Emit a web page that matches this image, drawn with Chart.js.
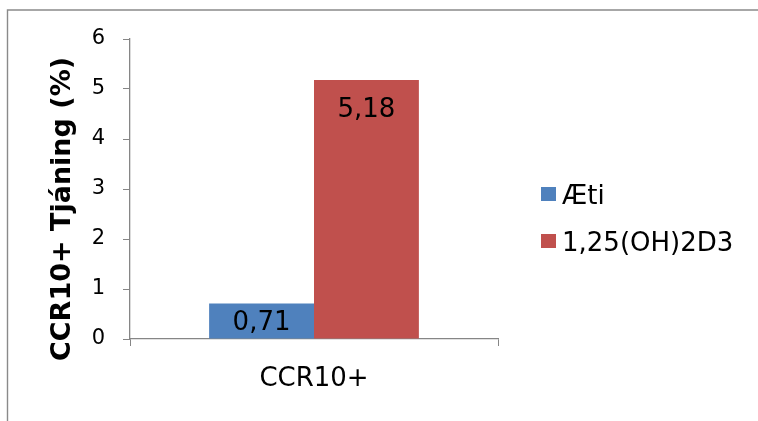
<!DOCTYPE html>
<html>
<head>
<meta charset="utf-8">
<script src="https://cdn.jsdelivr.net/npm/chart.js@4"></script>
<style>
  html, body { margin: 0; padding: 0; background: #ffffff; }
  #wrap { width: 758px; height: 421px; position: relative; }
</style>
</head>
<body>
<div id="wrap"><canvas id="c" width="758" height="421"></canvas></div>
<script>
// Categories, series and axis ticks
const categories = ['CCR10+'];
const seriesNames = ['Æti', '1,25(OH)2D3'];
const aetiValues = [0.71];
const vitdValues = [5.18];
const yTicks = [0, 1, 2, 3, 4, 5, 6];
const yTitle = 'CCR10+ Tjáning (%)';

const FONT = '"DejaVu Sans", Verdana, sans-serif';
const AXIS_GREY = '#868686';
const colors = ['#4F81BD', '#C0504D'];

// Outer frame of the chart box (top and left edges)
const framePlugin = {
  id: 'frame',
  beforeDraw(chart) {
    const ctx = chart.ctx;
    ctx.save();
    ctx.strokeStyle = '#8a8a8a';
    ctx.lineWidth = 1.4;
    ctx.beginPath();
    ctx.moveTo(7.5, 421);
    ctx.lineTo(7.5, 10);
    ctx.lineTo(758, 10);
    ctx.stroke();
    ctx.restore();
  }
};

// Rotated value-axis title, centred on the chart box
const yTitlePlugin = {
  id: 'yTitle',
  afterDraw(chart) {
    const ctx = chart.ctx;
    ctx.save();
    ctx.translate(70, 209);
    ctx.rotate(-Math.PI / 2);
    ctx.font = 'bold 27px ' + FONT;
    ctx.fillStyle = '#000000';
    ctx.textAlign = 'center';
    ctx.textBaseline = 'alphabetic';
    ctx.fillText(yTitle, 0, 0);
    ctx.restore();
  }
};

// Value labels inside each bar, decimal comma
const valueLabelPlugin = {
  id: 'valueLabels',
  afterDatasetsDraw(chart) {
    const ctx = chart.ctx;
    ctx.save();
    ctx.font = '26px ' + FONT;
    ctx.fillStyle = '#000000';
    ctx.textAlign = 'center';
    ctx.textBaseline = 'alphabetic';
    chart.data.datasets.forEach((ds, i) => {
      const meta = chart.getDatasetMeta(i);
      meta.data.forEach((bar, j) => {
        const v = ds.data[j];
        const y = Math.min(bar.y + 36.5, bar.base - 8.5);
        ctx.fillText(v.toFixed(2).replace('.', ','), bar.x, y);
      });
    });
    ctx.restore();
  }
};

// Legend on the right, square markers
const legendPlugin = {
  id: 'sideLegend',
  afterDraw(chart) {
    const ctx = chart.ctx;
    ctx.save();
    ctx.font = '26px ' + FONT;
    ctx.textBaseline = 'alphabetic';
    ctx.textAlign = 'left';
    const x0 = 541, ys = [194, 241];
    chart.data.datasets.forEach((ds, i) => {
      ctx.fillStyle = ds.backgroundColor;
      ctx.fillRect(x0, ys[i] - 7, 15, 14);
      ctx.fillStyle = '#000000';
      ctx.fillText(ds.label, x0 + 21, ys[i] + 9.5);
    });
    ctx.restore();
  }
};

new Chart(document.getElementById('c'), {
  type: 'bar',
  data: {
    labels: categories,
    datasets: [
      { label: seriesNames[0], data: aetiValues, backgroundColor: colors[0] },
      { label: seriesNames[1], data: vitdValues, backgroundColor: colors[1] }
    ]
  },
  options: {
    responsive: false,
    animation: false,
    devicePixelRatio: 1,
    layout: { padding: { top: 39, right: 260, bottom: 0, left: 0 } },
    datasets: { bar: { categoryPercentage: 0.57, barPercentage: 1.0 } },
    plugins: { legend: { display: false }, tooltip: { enabled: false } },
    scales: {
      x: {
        offset: true,
        grid: { display: true, drawOnChartArea: false, drawTicks: true, tickLength: 7, color: AXIS_GREY, offset: true },
        border: { display: true, color: AXIS_GREY, width: 1.3 },
        ticks: { color: '#000000', font: { family: FONT, size: 26 }, padding: 18 },
        afterFit(scale) { scale.height = 82; }
      },
      y: {
        min: 0,
        max: 6,
        afterBuildTicks(scale) { scale.ticks = yTicks.map(v => ({ value: v })); },
        grid: { display: true, drawOnChartArea: false, drawTicks: true, tickLength: 7, color: AXIS_GREY },
        border: { display: true, color: AXIS_GREY, width: 1.3 },
        ticks: { color: '#000000', font: { family: FONT, size: 21 }, padding: 18 },
        title: { display: false },
        afterFit(scale) { scale.width = 130; }
      }
    }
  },
  plugins: [framePlugin, yTitlePlugin, valueLabelPlugin, legendPlugin]
});
</script>
</body>
</html>
